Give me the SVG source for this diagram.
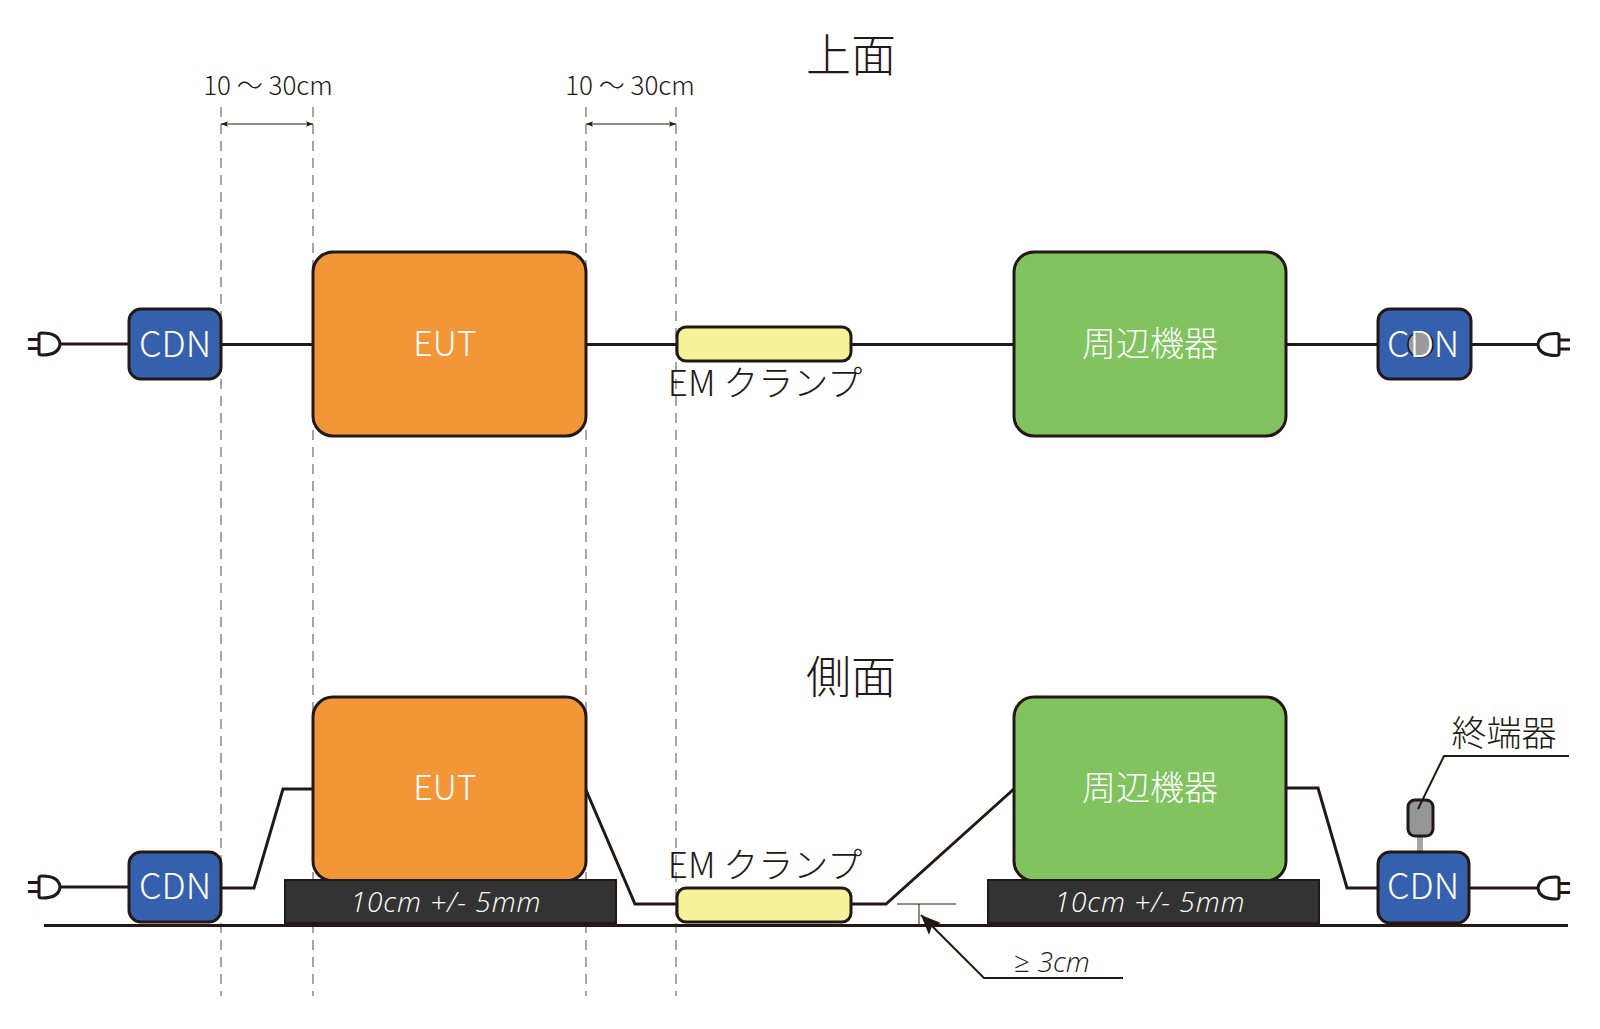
<svg xmlns="http://www.w3.org/2000/svg" width="1600" height="1029" viewBox="0 0 1600 1029">
<style>
text{font-family:"Noto Sans CJK JP","Noto Sans",sans-serif;font-weight:300;fill:#231815}
.box{stroke:#231815;stroke-width:3}
.eut{fill:#f39638}.per{fill:#80c35f}.cdn{fill:#3560ad}.clamp{fill:#f6f29a}
.w{fill:none;stroke:#231815;stroke-width:3}
.thin{fill:none;stroke:#231815;stroke-width:1}
.dash{fill:none;stroke:#6e6a67;stroke-width:1.2;stroke-dasharray:10 7}
.lbl{fill:#fff;font-size:36px;text-anchor:middle}
.lbl2{fill:#fff;font-size:34px;text-anchor:middle}
.base{fill:#333;stroke:#231815;stroke-width:2}
.it{fill:#fff;font-size:28px;font-style:italic;letter-spacing:1px;text-anchor:middle;font-family:"Open Sans","Noto Sans",sans-serif;font-weight:300}
.plug{fill:#fff;stroke:#231815;stroke-width:3;stroke-linejoin:round}
</style>
<defs>
<marker id="a" viewBox="0 0 10 8" refX="10" refY="4" markerWidth="7" markerHeight="6" orient="auto-start-reverse" markerUnits="userSpaceOnUse"><path d="M0 0L10 4L0 8L2 4Z" fill="#231815"/></marker>
<marker id="b" viewBox="0 0 14 12" refX="14" refY="6" markerWidth="22" markerHeight="17" orient="auto" markerUnits="userSpaceOnUse"><path d="M0 0L14 6L0 12L3 6Z" fill="#231815"/></marker>
<g id="plug-l"><path class="w" d="M28 -4.500H40M28 4.500H40"/><path class="plug" d="M39 -9Q39 -11 42 -11Q59 -11 60 0Q59 11 42 11Q39 11 39 9Z"/></g>
<g id="plug-r"><path class="w" d="M1570 -4.500H1558M1570 4.500H1558"/><path class="plug" d="M1559 -9Q1559 -11 1556 -11Q1539 -11 1538 0Q1539 11 1556 11Q1559 11 1559 9Z"/></g>
</defs>

<g id="connectors">
<path class="dash" d="M221 107V996M313 107V996M586 107V996M676 107V996"/>
<path class="thin" d="M221 124H313" marker-start="url(#a)" marker-end="url(#a)"/>
<path class="thin" d="M586 124H676" marker-start="url(#a)" marker-end="url(#a)"/>
<path class="w" d="M60 344H129M221 344.500H313M586 344.500H677M851 344.500H1014M1286 344.500H1380M1471 344.500H1538"/>
<path class="w" d="M60 887H129M221 888H254L283 789H313"/>
<path class="w" d="M586 790L635 904H677M851 904H886L1015 788"/>
<path class="w" d="M1286 788H1318L1347 888H1378M1469 888H1538"/>
<path d="M44 925.500H1568" fill="none" stroke="#231815" stroke-width="3"/>
<path class="thin" d="M897 904H956M919 904V925" stroke="#777"/>
<path d="M1123 978H984L921 915" fill="none" stroke="#231815" stroke-width="2" marker-end="url(#b)"/>
<path d="M1420 836V852" stroke="#a6a6a6" stroke-width="6" fill="none"/>
</g>

<g id="title-top"><text x="851" y="72" font-size="45" text-anchor="middle">上面</text></g>
<g id="title-side"><text x="851" y="694" font-size="45" text-anchor="middle">側面</text></g>
<g id="dim-1"><text x="268" y="95" font-size="26" text-anchor="middle">10 〜 30cm</text></g>
<g id="dim-2"><text x="630" y="95" font-size="26" text-anchor="middle">10 〜 30cm</text></g>

<g id="plug-top-left" transform="translate(0 344)"><use href="#plug-l"/></g>
<g id="cdn-top-left"><rect class="box cdn" x="129" y="309" width="92" height="70" rx="12"/><text class="lbl" x="175" y="357">CDN</text></g>
<g id="eut-top"><rect class="box eut" x="313" y="252" width="273" height="184" rx="20"/><text class="lbl2" x="445" y="356">EUT</text></g>
<g id="clamp-top"><rect class="box clamp" x="677" y="327" width="174" height="34" rx="9"/><text x="765" y="396" font-size="35" text-anchor="middle">EM クランプ</text></g>
<g id="peripheral-top"><rect class="box per" x="1014" y="252" width="272" height="184" rx="20"/><text class="lbl2" x="1150" y="356">周辺機器</text></g>
<g id="cdn-top-right"><rect class="box cdn" x="1378" y="309" width="93" height="70" rx="12"/><rect x="1408" y="332" width="25" height="25" rx="12" fill="#9a9a9a" stroke="#231815" stroke-width="1.500"/><text class="lbl" x="1423" y="357">CDN</text></g>
<g id="plug-top-right" transform="translate(0 344.500)"><use href="#plug-r"/></g>

<g id="plug-side-left" transform="translate(0 887)"><use href="#plug-l"/></g>
<g id="cdn-side-left"><rect class="box cdn" x="129" y="852" width="92" height="70" rx="12"/><text class="lbl" x="175" y="899">CDN</text></g>
<g id="eut-side"><rect class="box eut" x="313" y="697" width="273" height="184" rx="20"/><text class="lbl2" x="445" y="800">EUT</text></g>
<g id="base-left"><rect class="base" x="285" y="880" width="331" height="43"/><text class="it" x="446" y="912">10cm +/- 5mm</text></g>
<g id="clamp-side"><rect class="box clamp" x="677" y="888" width="174" height="34" rx="9"/><text x="765" y="878" font-size="35" text-anchor="middle">EM クランプ</text></g>
<g id="peripheral-side"><rect class="box per" x="1014" y="697" width="272" height="184" rx="20"/><text class="lbl2" x="1150" y="800">周辺機器</text></g>
<g id="base-right"><rect class="base" x="988" y="880" width="331" height="43"/><text class="it" x="1150" y="912">10cm +/- 5mm</text></g>
<g id="terminator"><rect class="box" x="1408" y="800" width="25" height="36" rx="7" fill="#969696" stroke-width="2.500"/><path d="M1418 809L1444 756H1569" fill="none" stroke="#231815" stroke-width="2"/><text x="1504" y="746" font-size="35" text-anchor="middle">終端器</text></g>
<g id="cdn-side-right"><rect class="box cdn" x="1378" y="852" width="91" height="71" rx="12"/><text class="lbl" x="1423" y="899">CDN</text></g>
<g id="plug-side-right" transform="translate(0 888)"><use href="#plug-r"/></g>
<g id="gap-label"><text x="1051" y="972" font-size="28" text-anchor="middle" style="font-style:italic;font-family:'Open Sans','Noto Sans',sans-serif">≥ 3cm</text></g>
</svg>
